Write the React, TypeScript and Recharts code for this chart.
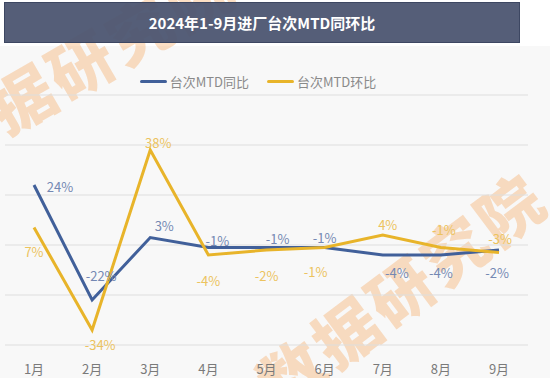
import { LineChart, Line, XAxis, YAxis, CartesianGrid, LabelList } from "recharts";

const months = ["1月", "2月", "3月", "4月", "5月", "6月", "7月", "8月", "9月"];
const yoy = [24, -22, 3, -1, -1, -1, -4, -4, -2];
const mom = [7, -34, 38, -4, -2, -1, 4, -1, -3];
const yTicks = [-40, -20, 0, 20, 40, 60];

const BLUE = "#41609a";
const YELLOW = "#e8b42a";
const FONT = "'Noto Sans CJK SC', 'Noto Sans', sans-serif";

// label nudges per point, [dx, dy] from the point
const yoyOffsets = [[26, 1], [9, -25], [14, -12], [9, -7], [11, -9], [0, -10], [14, 17], [0, 17], [-2, 22]];
const momOffsets = [[0, 24], [8, 14], [8, -8], [0, 25], [0, 25], [-9, 24], [5, -11], [3, -18], [1, -14]];

const data = months.map((m, i) => ({ month: m, yoy: yoy[i], mom: mom[i] }));

function makeLabel(offsets: number[][], color: string) {
  return (props: any) => {
    const { x, y, value, index } = props;
    const [dx, dy] = offsets[index] || [0, -12];
    return (
      <text
        x={x + dx}
        y={y + dy}
        textAnchor="middle"
        dominantBaseline="central"
        fill={color}
        fontSize={13}
        fontFamily={FONT}
      >
        {value}%
      </text>
    );
  };
}

function Watermark({ cx, cy, angle, text }: { cx: number; cy: number; angle: number; text: string }) {
  return (
    <div
      style={{
        position: "absolute",
        left: cx,
        top: cy,
        transform: `translate(-50%, -50%) rotate(${angle}deg)`,
        whiteSpace: "nowrap",
        fontFamily: FONT,
        fontWeight: 900,
        fontSize: 64,
        letterSpacing: 4,
        color: "rgba(246, 150, 60, 0.3)",
        pointerEvents: "none",
      }}
    >
      {text}
    </div>
  );
}

export default function App() {
  return (
    <div
      style={{
        position: "absolute",
        left: 0,
        top: 0,
        width: 550,
        height: 378,
        overflow: "hidden",
        background: "#ffffff",
        fontFamily: FONT,
      }}
    >
      <div style={{ position: "absolute", left: 0, top: 46, width: 550, height: 332, background: "#f8f8f8" }} />

      <Watermark cx={110} cy={44} angle={-30} text="据研究院" />
      <Watermark cx={400} cy={288} angle={-37} text="数据研究院" />

      <div
        style={{
          position: "absolute",
          left: 4,
          top: 2,
          width: 514,
          height: 39,
          background: "rgba(74, 84, 112, 0.94)",
          border: "1px solid #3d4762",
          color: "#ffffff",
          fontWeight: 700,
          fontSize: 15,
          display: "flex",
          alignItems: "center",
          justifyContent: "center",
        }}
      >
        2024年1-9月进厂台次MTD同环比
      </div>

      <div
        style={{
          position: "absolute",
          left: 0,
          top: 72,
          width: 516,
          display: "flex",
          justifyContent: "center",
          gap: 18,
          fontSize: 13,
          color: "#8a8a8a",
        }}
      >
        <div style={{ display: "flex", alignItems: "center", gap: 3 }}>
          <div style={{ width: 27, height: 3, borderRadius: 2, background: BLUE }} />
          台次MTD同比
        </div>
        <div style={{ display: "flex", alignItems: "center", gap: 3 }}>
          <div style={{ width: 27, height: 3, borderRadius: 2, background: YELLOW }} />
          台次MTD环比
        </div>
      </div>

      <div style={{ position: "absolute", left: 0, top: 0 }}>
        <LineChart width={550} height={378} data={data} margin={{ top: 95, right: 22, bottom: 3, left: 5 }}>
          <CartesianGrid vertical={false} stroke="#dedede" strokeWidth={1.2} />
          <XAxis
            dataKey="month"
            axisLine={false}
            tickLine={false}
            tickSize={0}
            tickMargin={20}
            height={30}
            padding={{ left: 29, right: 29 }}
            tick={{ fill: "#7a7a7a", fontSize: 13, fontFamily: FONT }}
          />
          <YAxis hide domain={[-40, 60]} ticks={yTicks} />
          <Line
            dataKey="yoy"
            name="台次MTD同比"
            stroke={BLUE}
            strokeWidth={3}
            strokeLinejoin="miter"
            dot={false}
            isAnimationActive={false}
          >
            <LabelList dataKey="yoy" content={makeLabel(yoyOffsets, "#7488b3")} />
          </Line>
          <Line
            dataKey="mom"
            name="台次MTD环比"
            stroke={YELLOW}
            strokeWidth={3}
            strokeLinejoin="miter"
            dot={false}
            isAnimationActive={false}
          >
            <LabelList dataKey="mom" content={makeLabel(momOffsets, "#ecc35e")} />
          </Line>
        </LineChart>
      </div>
    </div>
  );
}
